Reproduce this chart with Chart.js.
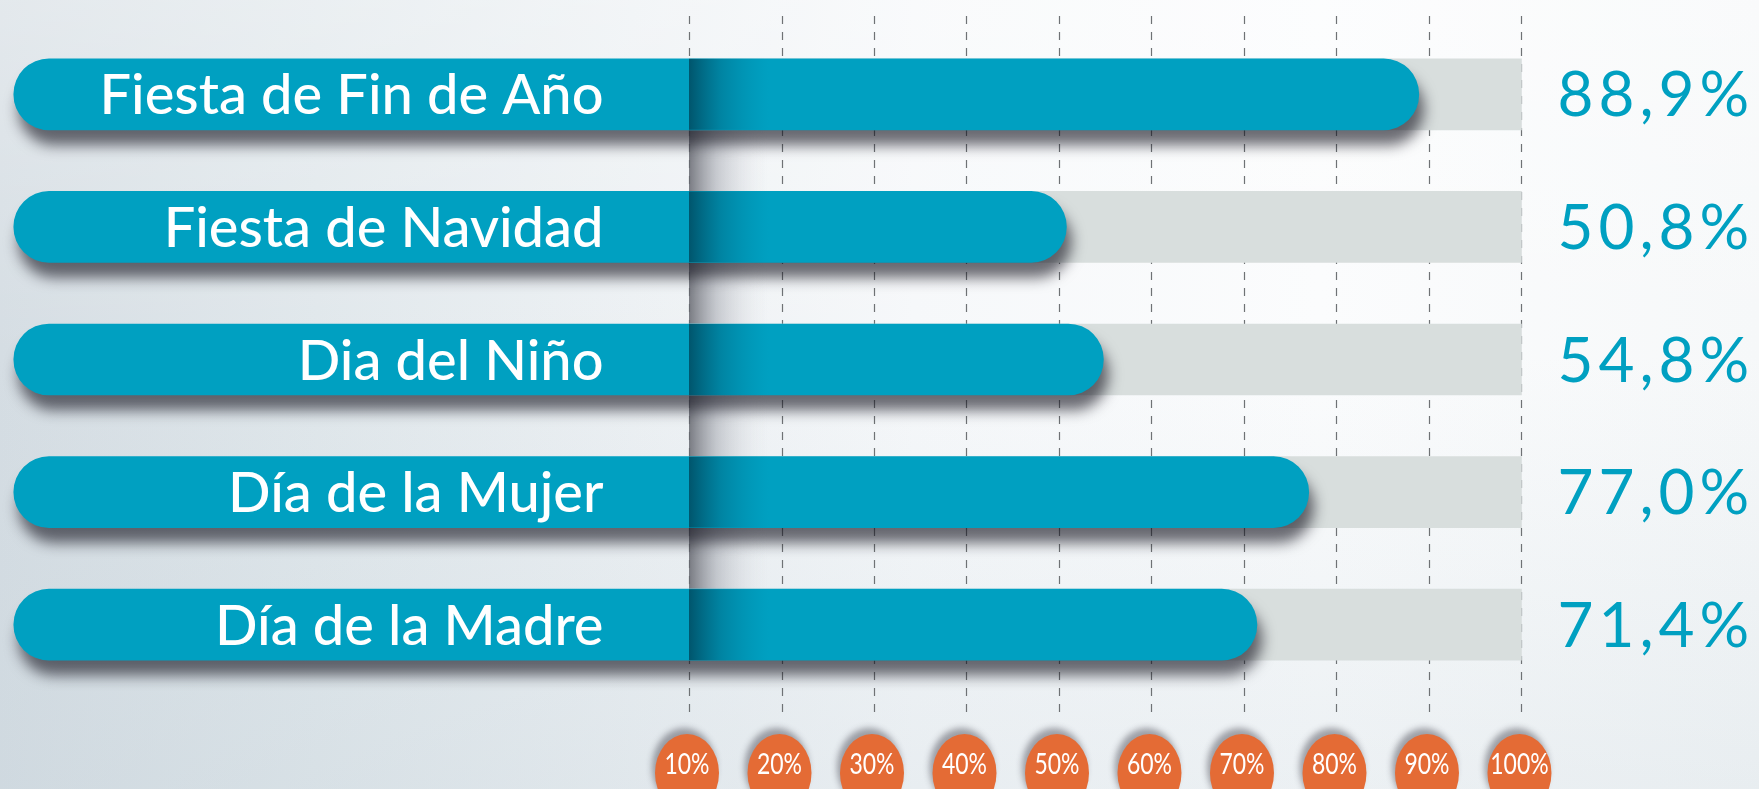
<!DOCTYPE html>
<html>
<head>
<meta charset="utf-8">
<script src="https://cdn.jsdelivr.net/npm/chart.js@4/dist/chart.umd.min.js"></script>
<style>
  html, body { margin: 0; padding: 0; overflow: hidden; }
  body {
    width: 1759px; height: 789px;
    background:
      linear-gradient(180deg, rgba(255,255,255,0.35) 0%, rgba(255,255,255,0) 45%, rgba(190,205,214,0.25) 100%),
      linear-gradient(90deg, #d5dde3 0%, #e0e7eb 18%, #ecf0f3 36%, #f6f8fa 52%, #fbfcfd 75%, #f6f8f9 100%);
  }
  canvas { display: block; }
</style>
</head>
<body>
<canvas id="c" width="1759" height="789"></canvas>
<script>
const categories = ['Fiesta de Fin de Año', 'Fiesta de Navidad', 'Dia del Niño', 'Día de la Mujer', 'Día de la Madre'];
const values = [88.9, 50.8, 54.8, 77.0, 71.4];
const valueLabels = ['88,9%', '50,8%', '54,8%', '77,0%', '71,4%'];
const tickValues = [10, 20, 30, 40, 50, 60, 70, 80, 90, 100];
const tickLabels = ['10%', '20%', '30%', '40%', '50%', '60%', '70%', '80%', '90%', '100%'];
const trackRange = [10, 100];
const labelStart = -63;

const TEAL = '#00A0C1';
const TRACK = '#D8DEDD';
const ORANGE = '#E46B35';

const decor = {
  id: 'decor',
  beforeDatasetsDraw(chart) {
    const ctx = chart.ctx, xs = chart.scales.x;
    ctx.save();
    ctx.strokeStyle = '#6f7275';
    ctx.lineWidth = 1.2;
    ctx.setLineDash([8, 8]);
    tickValues.forEach(v => {
      const x = Math.round(xs.getPixelForValue(v)) + 0.5;
      ctx.beginPath();
      ctx.moveTo(x, 16);
      ctx.lineTo(x, 712);
      ctx.stroke();
    });
    ctx.setLineDash([]);
    const meta = chart.getDatasetMeta(0);
    const x0 = xs.getPixelForValue(trackRange[0]);
    for (let i = 0; i < meta.data.length - 1; i++) {
      const a = meta.data[i], b = meta.data[i + 1];
      const yTop = a.y + a.height / 2, yBot = b.y - b.height / 2;
      const g = ctx.createLinearGradient(x0, 0, x0 + 80, 0);
      g.addColorStop(0, 'rgba(100,102,110,0.85)');
      g.addColorStop(0.35, 'rgba(165,168,176,0.55)');
      g.addColorStop(1, 'rgba(230,232,236,0)');
      ctx.fillStyle = g;
      ctx.fillRect(x0, yTop, 80, yBot - yTop);
    }
    ctx.restore();
  },
  beforeDatasetDraw(chart, args) {
    if (args.index === 0) {
      const ctx = chart.ctx;
      ctx.save();
      ctx.shadowColor = 'rgba(20,20,30,0.62)';
      ctx.shadowBlur = 14;
      ctx.shadowOffsetX = 5;
      ctx.shadowOffsetY = 15;
    }
  },
  afterDatasetDraw(chart, args) {
    if (args.index !== 0) return;
    const ctx = chart.ctx, xs = chart.scales.x;
    ctx.restore();
    ctx.save();
    const meta = chart.getDatasetMeta(0);
    const x0 = xs.getPixelForValue(trackRange[0]);
    const x100 = xs.getPixelForValue(trackRange[1]);
    const xText = xs.getPixelForValue(0) + 7;
    meta.data.forEach((bar, i) => {
      const top = bar.y - bar.height / 2;
      const g = ctx.createLinearGradient(x0, 0, x0 + 80, 0);
      g.addColorStop(0, 'rgba(0,60,80,0.75)');
      g.addColorStop(0.4, 'rgba(0,80,105,0.35)');
      g.addColorStop(1, 'rgba(0,120,150,0)');
      ctx.fillStyle = g;
      ctx.fillRect(x0, top, 80, bar.height);
      ctx.fillStyle = '#ffffff';
      ctx.font = '500 56px Lato, "Open Sans", sans-serif';
      ctx.textAlign = 'right';
      ctx.textBaseline = 'middle';
      ctx.fillText(categories[i], xText, bar.y + 2);
      ctx.fillStyle = TEAL;
      ctx.font = '400 62px Lato, "Open Sans", sans-serif';
      ctx.letterSpacing = '5px';
      ctx.textAlign = 'left';
      ctx.fillText(valueLabels[i], x100 + 36, bar.y + 2);
      ctx.letterSpacing = '0px';
    });
    ctx.restore();
  },
  afterDraw(chart) {
    const ctx = chart.ctx, xs = chart.scales.x;
    ctx.save();
    tickValues.forEach((v, i) => {
      const x = xs.getPixelForValue(v) - 2;
      const cy = 773;
      ctx.save();
      ctx.shadowColor = 'rgba(60,60,70,0.45)';
      ctx.shadowBlur = 6;
      ctx.shadowOffsetX = -3;
      ctx.shadowOffsetY = -6;
      ctx.fillStyle = ORANGE;
      ctx.beginPath();
      ctx.ellipse(x, cy, 32, 39, 0, 0, Math.PI * 2);
      ctx.fill();
      ctx.restore();
      ctx.save();
      ctx.translate(x, 765);
      ctx.scale(0.82, 1);
      ctx.fillStyle = '#ffffff';
      ctx.font = '400 28px Lato, "Open Sans", sans-serif';
      ctx.textAlign = 'center';
      ctx.textBaseline = 'middle';
      ctx.fillText(tickLabels[i], 0, 0);
      ctx.restore();
    });
    ctx.restore();
  }
};

new Chart(document.getElementById('c'), {
  type: 'bar',
  data: {
    labels: categories,
    datasets: [
      {
        label: 'Porcentaje',
        data: values.map(v => [labelStart, v]),
        backgroundColor: TEAL,
        borderRadius: 40,
        borderSkipped: false,
        borderWidth: 0,
        barThickness: 71,
        grouped: false,
        order: 0
      },
      {
        label: 'Total',
        data: categories.map(() => trackRange),
        backgroundColor: TRACK,
        borderRadius: 0,
        borderSkipped: false,
        borderWidth: 0,
        barThickness: 71,
        grouped: false,
        order: 1
      }
    ]
  },
  options: {
    indexAxis: 'y',
    responsive: false,
    animation: false,
    devicePixelRatio: 1,
    layout: { padding: { top: 28, bottom: 98, left: 0, right: 0 } },
    scales: {
      x: { type: 'linear', min: -64.49, max: 125.68, display: false },
      y: { display: false }
    },
    plugins: { legend: { display: false }, tooltip: { enabled: false } }
  },
  plugins: [decor]
});
</script>
</body>
</html>
